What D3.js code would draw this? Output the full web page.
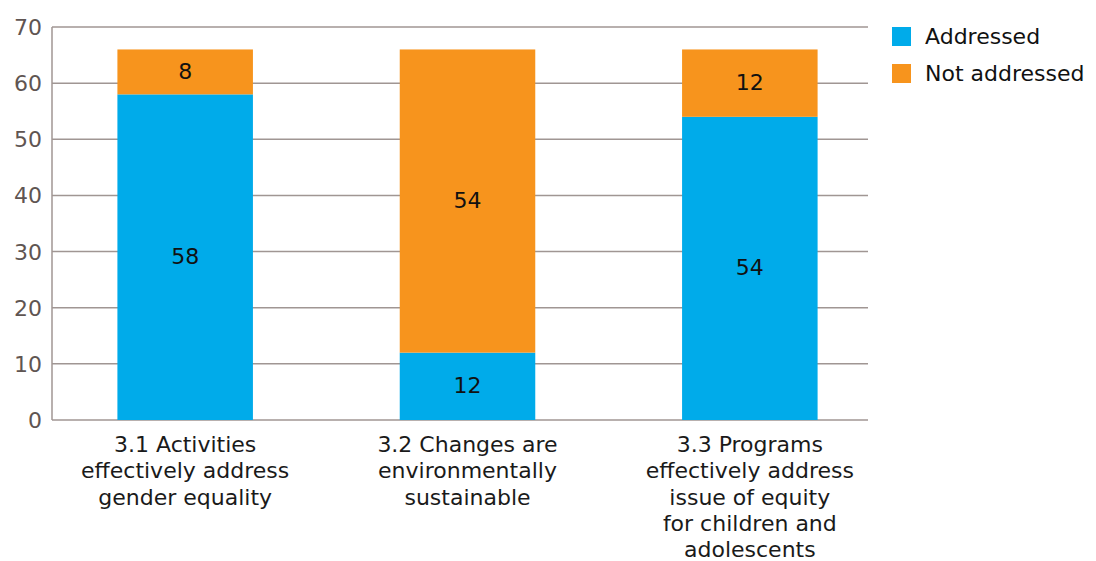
<!DOCTYPE html>
<html>
<head>
<meta charset="utf-8">
<script src="https://cdn.jsdelivr.net/npm/d3@7.9.0/dist/d3.min.js"></script>
<style>
  body { margin: 0; background: #fff; }
  svg { font-family: "DejaVu Sans", sans-serif; }
</style>
</head>
<body>
<svg id="chart" width="1096" height="561"></svg>
<script>
const categories = [
  ["3.1 Activities", "effectively address", "gender equality"],
  ["3.2 Changes are", "environmentally", "sustainable"],
  ["3.3 Programs", "effectively address", "issue of equity", "for children and", "adolescents"]
];
const seriesNames = ["Addressed", "Not addressed"];
const addressed = [58, 12, 54];
const notAddressed = [8, 54, 12];
const yTicks = [0, 10, 20, 30, 40, 50, 60, 70];
const colors = ["#00abea", "#f7941d"];

const svg = d3.select("#chart");
const plotLeft = 52, plotRight = 868, plotTop = 27, plotBottom = 420;

const keys = categories.map((c, i) => "c" + i);
const x = d3.scaleBand().domain(keys).range([44, 891]).paddingInner(0.52).paddingOuter(0.26);
const y = d3.scaleLinear().domain([0, 70]).range([plotBottom, plotTop]);

// gridlines
svg.append("g")
  .selectAll("line")
  .data(yTicks)
  .join("line")
  .attr("x1", plotLeft)
  .attr("x2", plotRight)
  .attr("y1", (d) => y(d))
  .attr("y2", (d) => y(d))
  .attr("stroke", "#a09693")
  .attr("stroke-width", 1.5);

// left axis line
svg.append("line")
  .attr("x1", plotLeft).attr("x2", plotLeft)
  .attr("y1", y(70)).attr("y2", y(0))
  .attr("stroke", "#a09693")
  .attr("stroke-width", 1.5);

// tick labels
svg.append("g")
  .selectAll("text")
  .data(yTicks)
  .join("text")
  .attr("x", 42)
  .attr("y", (d) => y(d) + 8)
  .attr("text-anchor", "end")
  .attr("font-size", 22)
  .attr("fill", "#5f5552")
  .text((d) => d);

// stacked bars
const table = keys.map((k, i) => ({ key: k, Addressed: addressed[i], "Not addressed": notAddressed[i] }));
const stacked = d3.stack().keys(seriesNames)(table);

stacked.forEach((layer, li) => {
  const g = svg.append("g");
  g.selectAll("rect")
    .data(layer)
    .join("rect")
    .attr("x", (d) => x(d.data.key))
    .attr("width", x.bandwidth())
    .attr("y", (d) => y(d[1]))
    .attr("height", (d) => y(d[0]) - y(d[1]))
    .attr("fill", colors[li]);
  g.selectAll("text")
    .data(layer)
    .join("text")
    .attr("x", (d) => x(d.data.key) + x.bandwidth() / 2)
    .attr("y", (d) => (y(d[0]) + y(d[1])) / 2 + 7)
    .attr("text-anchor", "middle")
    .attr("font-size", 22)
    .attr("fill", "#111")
    .text((d) => d.data[layer.key]);
});

// category labels
categories.forEach((lines, i) => {
  const t = svg.append("text")
    .attr("text-anchor", "middle")
    .attr("font-size", 22)
    .attr("fill", "#1a1a1a");
  lines.forEach((line, j) => {
    t.append("tspan")
      .attr("x", x(keys[i]) + x.bandwidth() / 2)
      .attr("y", 452 + j * 26.3)
      .text(line);
  });
});

// legend
const legend = svg.append("g");
seriesNames.forEach((name, i) => {
  legend.append("rect")
    .attr("x", 892).attr("y", 27 + i * 37)
    .attr("width", 19).attr("height", 19)
    .attr("fill", colors[i]);
  legend.append("text")
    .attr("x", 925).attr("y", 44 + i * 37)
    .attr("font-size", 22)
    .attr("fill", "#111")
    .text(name);
});
</script>
</body>
</html>
